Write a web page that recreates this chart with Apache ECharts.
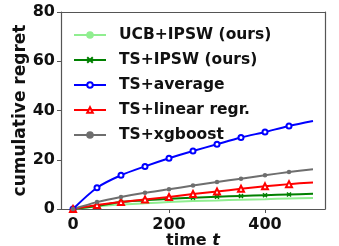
<!DOCTYPE html>
<html>
<head>
<meta charset="utf-8">
<script src="https://cdn.jsdelivr.net/npm/echarts@6/dist/echarts.min.js"></script>
<style>
html,body{margin:0;padding:0;background:#fff;}
#chart{width:339px;height:246px;}
</style>
</head>
<body>
<div id="chart"></div>
<script>
const steps = [0, 50, 100, 150, 200, 250, 300, 350, 400, 450, 500]
const ucbIpsw = [0, 1.0, 1.8, 2.3, 2.8, 3.2, 3.5, 3.8, 4.0, 4.3, 4.5]
const tsIpsw = [0, 1.2, 2.8, 3.5, 4.2, 4.6, 5.0, 5.3, 5.6, 5.9, 6.2]
const tsAverage = [0, 8.65, 13.7, 17.3, 20.6, 23.55, 26.3, 29.0, 31.3, 33.7, 35.7]
const tsLinear = [0, 1.6, 2.8, 3.9, 4.9, 6.1, 7.1, 8.2, 9.2, 10.1, 10.8]
const tsXgboost = [0, 2.8, 4.9, 6.6, 8.0, 9.5, 11.0, 12.3, 13.7, 15.0, 16.1]
const xTicks = [0, 200, 400]

const font = 'DejaVu Sans'
const frame = '#555'
const crossPath = 'path://M0,0L10,10M10,0L0,10'

// markers every 50 steps, none on the final point
function pts(vals){
    return steps.map((t, i) => i === steps.length - 1 ? {value: [t, vals[i]], symbol: 'none'} : [t, vals[i]])
}

function line(name, vals, color, symbol, size){
    return {
        name: name,
        type: 'line',
        data: pts(vals),
        symbol: symbol,
        symbolSize: size,
        showSymbol: symbol !== 'none',
        smooth: 0.3,
        lineStyle: {color: color, width: 2},
        itemStyle: {color: color, borderColor: color, borderWidth: 1.5},
        emphasis: {disabled: true},
        animation: false
    }
}

const bareAxis = {
    splitLine: {show: false}, axisTick: {show: false}, axisLabel: {show: false},
    axisLine: {show: true, onZero: false, lineStyle: {color: frame, width: 1.2}}
}

const chart = echarts.init(document.getElementById('chart'))
chart.setOption({
    backgroundColor: '#fff',
    textStyle: {fontFamily: font},
    grid: {left: 61, right: 14, top: 12, bottom: 37, outerBoundsMode: 'none'},
    legend: {
        left: 68, top: 22,
        orient: 'vertical',
        itemWidth: 32, itemHeight: 7, itemGap: 9,
        textStyle: {fontFamily: font, fontWeight: 'bold', fontSize: 15.5, color: '#111', padding: [0, 0, 0, 8]},
        data: ['UCB+IPSW (ours)', 'TS+IPSW (ours)', 'TS+average', 'TS+linear regr.', 'TS+xgboost']
    },
    xAxis: [{
        type: 'value', min: -25, max: 525,
        name: 'time {i|t}', nameLocation: 'middle', nameGap: 24, nameMoveOverlap: false,
        nameTextStyle: {fontFamily: font, fontWeight: 'bold', fontSize: 16, color: '#111', verticalAlign: 'top',
            rich: {i: {fontFamily: font, fontWeight: 'bold', fontStyle: 'italic', fontSize: 16, color: '#111'}}},
        splitLine: {show: false},
        axisLine: {show: true, onZero: false, lineStyle: {color: frame, width: 1.2}},
        axisTick: {show: true, customValues: xTicks, length: 4, lineStyle: {color: frame}},
        axisLabel: {customValues: xTicks, fontFamily: font, fontWeight: 'bold', fontSize: 16, color: '#111', margin: 8}
    }, Object.assign({type: 'value', min: -25, max: 525, position: 'top'}, bareAxis)],
    yAxis: [{
        type: 'value', min: 0, max: 80, interval: 20,
        name: 'cumulative regret', nameLocation: 'middle', nameGap: 32, nameMoveOverlap: false,
        nameTextStyle: {fontFamily: font, fontWeight: 'bold', fontSize: 17, color: '#111', verticalAlign: 'bottom'},
        splitLine: {show: false},
        axisLine: {show: true, onZero: false, lineStyle: {color: frame, width: 1.2}},
        axisTick: {show: true, length: 4, lineStyle: {color: frame}},
        axisLabel: {fontFamily: font, fontWeight: 'bold', fontSize: 16, color: '#111', margin: 6}
    }, Object.assign({type: 'value', min: 0, max: 80, position: 'right'}, bareAxis)],
    series: [
        line('UCB+IPSW (ours)', ucbIpsw, '#90ee90', 'none', 0),
        line('TS+IPSW (ours)', tsIpsw, '#008000', crossPath, 4),
        line('TS+average', tsAverage, '#0000ff', 'emptyCircle', 5),
        line('TS+linear regr.', tsLinear, '#ff0000', 'emptyTriangle', 6),
        line('TS+xgboost', tsXgboost, '#6e6e6e', 'circle', 3)
    ]
})
</script>
</body>
</html>
